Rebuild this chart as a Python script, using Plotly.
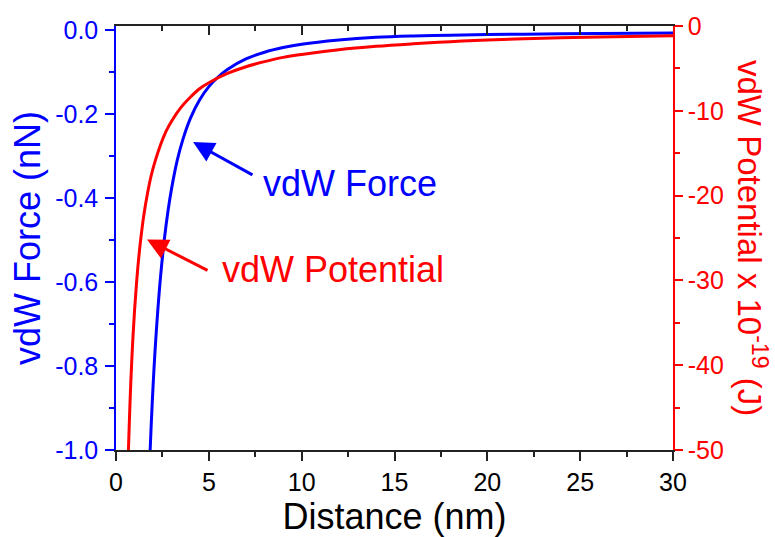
import plotly.graph_objects as go

# ---- data ----
force_d = [1.84, 1.9, 2.0, 2.1, 2.25, 2.4, 2.6, 2.8, 3.0, 3.3, 3.6, 4.0, 4.5, 5.0, 5.5, 6.0, 7.0, 8.0, 9.0, 10.0, 12.0, 14.0, 16.0, 18.0, 20.0, 23.0, 26.0, 30.0]
force_nN = [-1.0, -0.936, -0.845, -0.766, -0.668, -0.587, -0.500, -0.431, -0.376, -0.310, -0.261, -0.211, -0.167, -0.135, -0.112, -0.094, -0.069, -0.053, -0.042, -0.034, -0.024, -0.0175, -0.0142, -0.0124, -0.011, -0.0096, -0.0085, -0.0075]

pot_d = [0.67, 0.7, 0.75, 0.8, 0.9, 1.0, 1.1, 1.2, 1.35, 1.5, 1.7, 1.9, 2.1, 2.4, 2.7, 3.0, 3.5, 4.0, 4.5, 5.0, 6.0, 7.0, 8.0, 9.0, 10.0, 12.0, 14.0, 16.0, 18.0, 20.0, 23.0, 26.0, 30.0]
pot_e19J = [-50.0, -47.9, -44.7, -41.9, -37.2, -33.5, -30.5, -27.9, -24.8, -22.3, -19.7, -17.6, -16.0, -14.0, -12.4, -11.2, -9.6, -8.4, -7.4, -6.7, -5.6, -4.8, -4.2, -3.7, -3.35, -2.8, -2.4, -2.1, -1.85, -1.65, -1.45, -1.3, -1.15]

x_ticks = [0, 5, 10, 15, 20, 25, 30]
left_tickvals = [0, -0.2, -0.4, -0.6, -0.8, -1.0]
left_ticktext = ["0.0", "-0.2", "-0.4", "-0.6", "-0.8", "-1.0"]
right_tickvals = [0, -10, -20, -30, -40, -50]
right_ticktext = ["0", "-10", "-20", "-30", "-40", "-50"]

BLUE = "#0000FF"
RED = "#FF0000"
DARK = "#222222"
FONT = "Liberation Sans, Arial, sans-serif"
TICK_SIZE = 25
TITLE_SIZE = 36

fig = go.Figure()
fig.add_trace(go.Scatter(x=pot_d, y=pot_e19J, mode="lines", line=dict(color=RED, width=3, shape="spline"),
                         yaxis="y2", showlegend=False, hoverinfo="skip"))
fig.add_trace(go.Scatter(x=force_d, y=force_nN, mode="lines", line=dict(color=BLUE, width=3, shape="spline"),
                         showlegend=False, hoverinfo="skip"))
# dummy trace so the top mirror axis is rendered
fig.add_trace(go.Scatter(x=[None], y=[None], xaxis="x2", showlegend=False, hoverinfo="skip"))

fig.update_layout(
    width=775, height=537,
    margin=dict(l=116, r=102, t=25, b=81),
    paper_bgcolor="white", plot_bgcolor="white",
    font=dict(family=FONT),
    xaxis=dict(range=[0, 30], tickvals=x_ticks, ticks="outside", ticklen=9, tickwidth=1.5,
               tickcolor=DARK, showline=True, linecolor=DARK, linewidth=1.5,
               showgrid=False, zeroline=False, tickfont=dict(family=FONT, size=TICK_SIZE, color="black"),
               minor=dict(tickmode="linear", tick0=0, dtick=2.5, ticks="outside", ticklen=5, tickcolor=DARK, tickwidth=1.5),
               title=dict(text="Distance (nm)", font=dict(family=FONT, size=TITLE_SIZE, color="black"), standoff=4)),
    xaxis2=dict(range=[0, 30], overlaying="x", side="top", anchor="y", showticklabels=False,
                tickvals=x_ticks, ticks="inside", ticklen=9, tickwidth=1.5, tickcolor=DARK,
                minor=dict(tickmode="linear", tick0=0, dtick=2.5, ticks="inside", ticklen=5, tickcolor=DARK, tickwidth=1.5),
                showline=True, linecolor=DARK, linewidth=1.5, showgrid=False, zeroline=False),
    yaxis=dict(range=[-1, 0.0094], tickvals=left_tickvals, ticktext=left_ticktext, ticks="outside", ticklen=9,
               tickwidth=1.5, tickcolor=BLUE, showline=True, linecolor=BLUE, linewidth=1.5,
               showgrid=False, zeroline=False, tickfont=dict(family=FONT, size=TICK_SIZE, color=BLUE),
               ticklabelstandoff=2,
               minor=dict(tickmode="linear", tick0=0, dtick=0.1, ticks="outside", ticklen=5, tickcolor=BLUE, tickwidth=1.5),
               title=dict(text="vdW Force (nN)", font=dict(family=FONT, size=TITLE_SIZE, color=BLUE), standoff=4)),
    yaxis2=dict(range=[-50, 0], overlaying="y", side="right", anchor="x", tickvals=right_tickvals,
                ticktext=right_ticktext, ticks="outside", ticklen=8, tickwidth=1.5, tickcolor=RED,
                showline=True, linecolor=RED, linewidth=1.5, showgrid=False, zeroline=False,
                tickfont=dict(family=FONT, size=TICK_SIZE, color=RED),
                minor=dict(tickmode="linear", tick0=0, dtick=5, ticks="outside", ticklen=5, tickcolor=RED, tickwidth=1.5)),
)

# right axis title (reads top-to-bottom)
fig.add_annotation(text="vdW Potential x 10<sup>-19</sup> (J)", xref="paper", yref="paper",
                   x=1.0, y=0.5, xshift=79, textangle=90, showarrow=False,
                   font=dict(family=FONT, size=33, color=RED), xanchor="center", yanchor="middle")

# arrows
fig.add_annotation(x=4.15, y=-0.267, ax=7.43, ay=-0.347, xref="x", yref="y", axref="x", ayref="y",
                   text="", showarrow=True, arrowhead=2, arrowsize=1.4, arrowwidth=3, arrowcolor=BLUE)
fig.add_annotation(x=1.67, y=-0.499, ax=5.01, ay=-0.574, xref="x", yref="y", axref="x", ayref="y",
                   text="", showarrow=True, arrowhead=2, arrowsize=1.4, arrowwidth=3, arrowcolor=RED)
# labels
fig.add_annotation(x=12.6, y=-0.365, xref="x", yref="y", text="vdW Force", showarrow=False,
                   font=dict(family=FONT, size=TITLE_SIZE, color=BLUE), xanchor="center", yanchor="middle")
fig.add_annotation(x=11.69, y=-0.571, xref="x", yref="y", text="vdW Potential", showarrow=False,
                   font=dict(family=FONT, size=TITLE_SIZE, color=RED), xanchor="center", yanchor="middle")

fig.write_html("out.html")
